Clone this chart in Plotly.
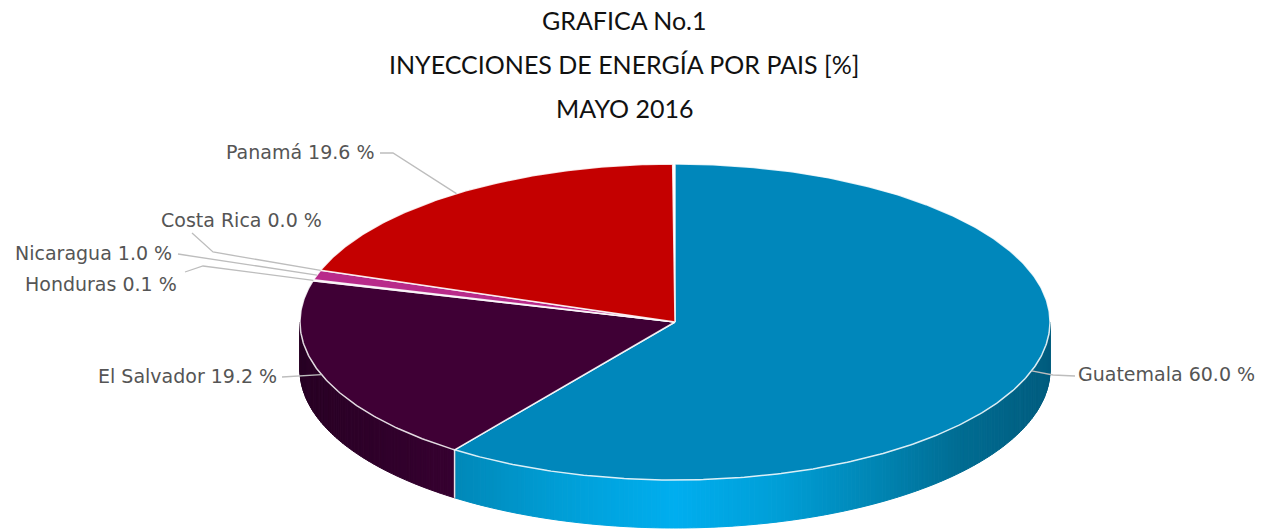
import math
import numpy as np
import plotly.graph_objects as go

# ---- data ----
countries = ["Guatemala", "El Salvador", "Honduras", "Nicaragua", "Costa Rica", "Panamá"]
shares = [60.0, 19.2, 0.1, 1.0, 0.0, 19.6]
title_lines = ["GRAFICA No.1", "INYECCIONES DE ENERGÍA POR PAIS [%]", "MAYO 2016"]
top_colors = ["#0087BB", "#3F0035", "#B82A8A", "#B82A8A", "#C00000", "#C40000"]

# ---- layout of the drawing (pixels of a 1270x529 page) ----
W, H = 1270, 529
CX, CY, RX, RY, DEPTH = 675, 322, 375, 158, 48
TITLE_Y = [20, 64, 108]
# label anchor (x, y, side), leader elbow points between label and slice
label_pos = {
    "Guatemala": (1076, 374, "left"),
    "El Salvador": (279, 376, "right"),
    "Honduras": (179, 284, "right"),
    "Nicaragua": (174, 253, "right"),
    "Costa Rica": (324, 220, "right"),
    "Panamá": (377, 152, "right"),
}
leader_via = {
    "Guatemala": [(1075, 376), (1053, 375)],
    "El Salvador": [(282, 377)],
    "Honduras": [(185, 272), (203, 266)],
    "Nicaragua": [(178, 254)],
    "Costa Rica": [(192, 233), (213, 252)],
    "Panamá": [(380, 153), (393, 153)],
}
LABEL_FONT = "DejaVu Sans"
LABEL_SIZE = 19


def px(theta):
    return CX + RX * np.sin(theta), CY - RY * np.cos(theta)


total = sum(shares) + 0.1  # published shares add to 99.9 %; the rest is rounding
frac = [s / total for s in shares]
starts = np.cumsum([0] + frac[:-1]) * 2 * math.pi
ends = np.cumsum(frac) * 2 * math.pi

fig = go.Figure()


def lerp_color(stops, x):
    xs = [s[0] for s in stops]
    rgb = [np.interp(x, xs, [s[1][i] for s in stops]) for i in range(3)]
    return "rgb(%d,%d,%d)" % tuple(int(round(v)) for v in rgb)


side_stops = {
    "Guatemala": [(455, (0, 136, 184)), (560, (0, 158, 214)), (675, (0, 174, 239)),
                  (780, (0, 158, 214)), (880, (0, 132, 178)), (960, (0, 108, 146)),
                  (1050, (0, 92, 126))],
    "El Salvador": [(300, (40, 0, 36)), (455, (54, 0, 48))],
}

# extruded rim: thin strips whose colours follow the screen position
for i, name in enumerate(countries):
    if name not in side_stops:
        continue
    a0, a1 = max(starts[i], math.pi / 2), min(ends[i], 3 * math.pi / 2)
    n = max(2, int((a1 - a0) / 0.012))
    edges = np.linspace(a0, a1, n + 1)
    for t0, t1 in zip(edges[:-1], edges[1:]):
        ts = np.linspace(t0, t1, 3)
        x, y = px(ts)
        xs = list(x) + list(x[::-1]) + [x[0]]
        ys = list(y + DEPTH) + list(y[::-1]) + [y[0] + DEPTH]
        col = lerp_color(side_stops[name], float(np.mean(x)))
        fig.add_trace(go.Scatter(x=xs, y=ys, mode="lines", fill="toself", fillcolor=col,
                                 line=dict(color=col, width=1), hoverinfo="skip", showlegend=False))

# white seam on the rim where Guatemala meets El Salvador
sx, sy = px(starts[1])
fig.add_trace(go.Scatter(x=[sx, sx], y=[sy, sy + DEPTH], mode="lines",
                         line=dict(color="#E8E4E8", width=1.5), hoverinfo="skip", showlegend=False))

# top slices
for i, name in enumerate(countries):
    if shares[i] <= 0:
        continue
    ts = np.linspace(starts[i], ends[i], max(3, int((ends[i] - starts[i]) / 0.01)))
    x, y = px(ts)
    xs = [CX] + list(x) + [CX]
    ys = [CY] + list(y) + [CY]
    fig.add_trace(go.Scatter(x=xs, y=ys, mode="lines", fill="toself", fillcolor=top_colors[i],
                             line=dict(color="rgba(255,255,255,0.85)", width=1.5),
                             name=name, hoverinfo="name", showlegend=False))

# leaders and labels
for i, name in enumerate(countries):
    ax, ay = px((starts[i] + ends[i]) / 2)
    via = leader_via[name]
    lx = [p[0] for p in via] + [float(ax)]
    ly = [p[1] for p in via] + [float(ay)]
    fig.add_trace(go.Scatter(x=lx, y=ly, mode="lines", line=dict(color="#BDBDBD", width=1.3),
                             hoverinfo="skip", showlegend=False))
    tx, ty, side = label_pos[name]
    fig.add_annotation(x=tx, y=ty, xref="x", yref="y", showarrow=False, xanchor=side, yanchor="middle",
                       text=f"{name} {shares[i]:.1f} %",
                       font=dict(family=LABEL_FONT, size=LABEL_SIZE, color="#555555"))

for line, ty in zip(title_lines, TITLE_Y):
    fig.add_annotation(x=624, y=ty, xref="x", yref="y", showarrow=False, xanchor="center", yanchor="middle",
                       text=line, font=dict(family="Lato", size=25, color="#111111"))

fig.update_layout(
    width=W, height=H, margin=dict(l=0, r=0, t=0, b=0), autosize=False,
    paper_bgcolor="white", plot_bgcolor="white", showlegend=False,
    xaxis=dict(range=[0, W], visible=False, fixedrange=True),
    yaxis=dict(range=[H, 0], visible=False, fixedrange=True),
)
fig.write_html("out.html", config={"displayModeBar": False},
               post_script="document.body.style.margin='0';document.body.style.overflow='hidden';")
